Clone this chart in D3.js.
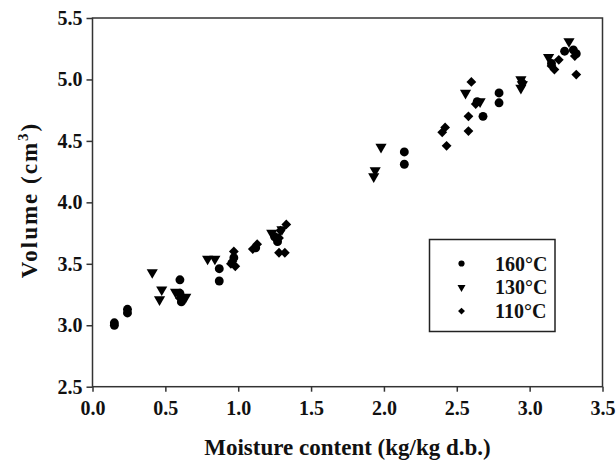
<!DOCTYPE html>
<html>
<head>
<meta charset="utf-8">
<script src="https://cdn.jsdelivr.net/npm/d3@7"></script>
<style>
  body { margin: 0; background: #fff; }
  svg { display: block; }
  text { font-family: "Liberation Serif", "Times New Roman", serif; font-weight: bold; fill: #111; }
</style>
</head>
<body>
<svg id="chart" width="616" height="466"></svg>
<script>
// ---- data ----
const xTicks = [0.0, 0.5, 1.0, 1.5, 2.0, 2.5, 3.0, 3.5];
const yTicks = [2.5, 3.0, 3.5, 4.0, 4.5, 5.0, 5.5];
const seriesNames = ["160°C", "130°C", "110°C"];

const m160 = [0.15, 0.15, 0.24, 0.24, 0.60, 0.60, 0.61, 0.87, 0.87, 0.97, 1.12, 1.25, 1.27, 2.14, 2.14, 2.64, 2.68, 2.79, 2.79, 3.15, 3.24, 3.30, 3.32];
const v160 = [3.00, 3.02, 3.10, 3.13, 3.37, 3.26, 3.19, 3.46, 3.36, 3.55, 3.63, 3.72, 3.68, 4.41, 4.31, 4.82, 4.70, 4.89, 4.81, 5.13, 5.23, 5.24, 5.21];

const m130 = [0.41, 0.475, 0.46, 0.57, 0.64, 0.79, 0.84, 1.23, 1.30, 1.26, 1.98, 1.94, 1.93, 2.56, 2.66, 2.94, 2.95, 2.94, 3.27, 3.13];
const v130 = [3.43, 3.29, 3.21, 3.27, 3.23, 3.54, 3.54, 3.75, 3.78, 3.70, 4.45, 4.26, 4.21, 4.89, 4.82, 5.00, 4.96, 4.93, 5.31, 5.18];

const m110 = [0.60, 0.96, 0.98, 0.95, 0.97, 1.10, 1.13, 1.33, 1.28, 1.29, 1.28, 1.32, 2.40, 2.42, 2.43, 2.58, 2.58, 2.60, 2.63, 2.95, 3.15, 3.17, 3.20, 3.31, 3.32];
const v110 = [3.22, 3.52, 3.48, 3.50, 3.60, 3.62, 3.66, 3.82, 3.71, 3.77, 3.59, 3.59, 4.57, 4.61, 4.46, 4.58, 4.70, 4.98, 4.80, 4.98, 5.11, 5.08, 5.16, 5.19, 5.04];

// ---- layout ----
const W = 616, H = 466;
const margin = { left: 92.5, right: 13.5, top: 18, bottom: 79.3 };
const svg = d3.select("#chart");
const x = d3.scaleLinear().domain([0, 3.5]).range([margin.left, W - margin.right]);
const y = d3.scaleLinear().domain([2.5, 5.5]).range([H - margin.bottom, margin.top]);

const axisColor = "#333";
const serif = '"Liberation Serif", "Times New Roman", serif';

// frame
svg.append("rect")
  .attr("x", x(0)).attr("y", y(5.5))
  .attr("width", x(3.5) - x(0)).attr("height", y(2.5) - y(5.5))
  .attr("fill", "none").attr("stroke", axisColor).attr("stroke-width", 1.5);

// x axis
const gx = svg.append("g").attr("transform", `translate(0,${y(2.5)})`)
  .call(d3.axisBottom(x).tickValues(xTicks).tickSize(5).tickPadding(9).tickFormat(d3.format(".1f")))
  .attr("font-family", serif).attr("font-size", 20);
gx.select(".domain").remove();
gx.selectAll("line").attr("stroke", axisColor).attr("stroke-width", 1.5);
gx.selectAll("text").attr("fill", "#111")
  .style("font-family", serif).style("font-weight", "bold");

// y axis
const gy = svg.append("g").attr("transform", `translate(${x(0)},0)`)
  .call(d3.axisLeft(y).tickValues(yTicks).tickSize(6).tickPadding(4).tickFormat(d3.format(".1f")))
  .attr("font-family", serif).attr("font-size", 20);
gy.select(".domain").remove();
gy.selectAll("line").attr("stroke", axisColor).attr("stroke-width", 1.5);
gy.selectAll("text").attr("fill", "#111")
  .style("font-family", serif).style("font-weight", "bold");

// axis titles
svg.append("text")
  .attr("x", (x(0) + x(3.5)) / 2).attr("y", 455)
  .attr("text-anchor", "middle").attr("font-size", 23)
  .text("Moisture content (kg/kg d.b.)");

const yt = svg.append("text")
  .attr("transform", `translate(37,200) rotate(-90)`)
  .attr("text-anchor", "middle").attr("font-size", 23)
  .style("letter-spacing", "2px");
yt.append("tspan").text("Volume (cm");
yt.append("tspan").attr("font-size", 15).attr("dy", -9).text("3");
yt.append("tspan").attr("dy", 9).text(")");

// markers
const circle = d3.symbol().type(d3.symbolCircle);
const tri = d3.symbol().type(d3.symbolTriangle);
const diamond = d3.symbol().type(d3.symbolSquare);

function drawSeries(xs, ys, kind) {
  const data = xs.map((m, i) => [m, ys[i]]);
  const g = svg.append("g");
  g.selectAll("path").data(data).join("path")
    .attr("transform", d => {
      const base = `translate(${x(d[0])},${y(d[1])})`;
      if (kind === "tri") return base + " rotate(180)";
      if (kind === "dia") return base + " rotate(45)";
      return base;
    })
    .attr("d", kind === "circ" ? circle.size(62)() : kind === "tri" ? tri.size(54)() : diamond.size(48)())
    .attr("fill", "#000");
}
drawSeries(m160, v160, "circ");
drawSeries(m130, v130, "tri");
drawSeries(m110, v110, "dia");

// legend
const lg = svg.append("g");
lg.append("rect").attr("x", 429.5).attr("y", 239.5).attr("width", 125.5).attr("height", 92)
  .attr("fill", "#fff").attr("stroke", "#222").attr("stroke-width", 1.5);
const legendSyms = [circle.size(30)(), tri.size(28)(), diamond.size(24)()];
const legendRot = ["", " rotate(180)", " rotate(45)"];
seriesNames.forEach((name, i) => {
  const cy = 263.5 + i * 23.8;
  lg.append("path").attr("d", legendSyms[i])
    .attr("transform", `translate(461.5,${cy})` + legendRot[i]).attr("fill", "#000");
  lg.append("text").attr("x", 495).attr("y", cy).attr("dy", "0.35em")
    .attr("font-size", 20).text(name);
});
</script>
</body>
</html>
